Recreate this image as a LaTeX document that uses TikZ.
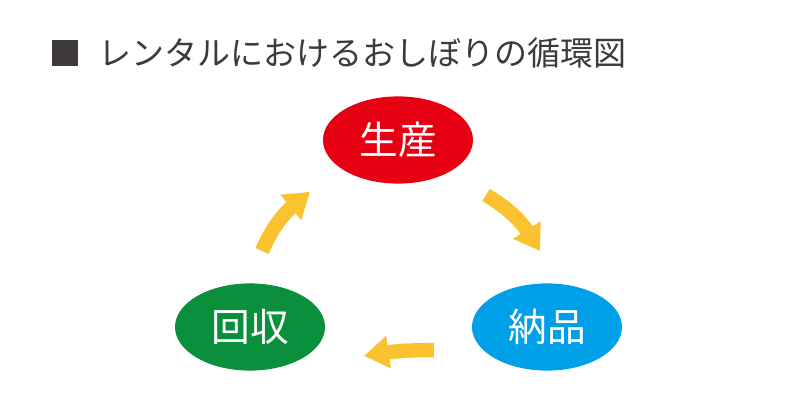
\documentclass[tikz,border=0pt]{standalone}
\usepackage{fontspec}
\setmainfont{Noto Sans CJK JP}
\usetikzlibrary{shapes.geometric,arrows.meta,bending}
\definecolor{seisanred}{HTML}{E60012}
\definecolor{nohinblue}{HTML}{00A0E9}
\definecolor{kaishugreen}{HTML}{0A8F3C}
\definecolor{flowyellow}{HTML}{F9C22E}
\definecolor{titlegray}{HTML}{3E3A39}
\begin{document}
\begin{tikzpicture}[
stage/.style={
ellipse,
draw=none,
inner sep=0pt,
minimum width=3.75cm,
minimum height=2.18cm,
text=white,
font=\fontsize{27.5}{30}\selectfont
},
flow/.style={
draw=flowyellow,
line width=0.36cm,
-{Triangle[width=0.78cm,length=0.62cm,flex]}
}
]
\useasboundingbox (0,0) rectangle (20,10.475);

\node[fill=titlegray,minimum size=0.65cm,inner sep=0pt] (mark) at (1.625,9.15) {};
\node[anchor=west,inner sep=0pt,text=titlegray,font=\fontsize{23.5}{26}\selectfont] (title) at (2.45,9.15) {レンタルにおけるおしぼりの循環図};

\node[stage,fill=seisanred] (S) at (9.95,6.975) {生産};
\node[stage,fill=nohinblue] (N) at (13.675,2.3) {納品};
\node[stage,fill=kaishugreen] (K) at (6.25,2.3) {回収};

\coordinate (KS1) at (6.55,4.2);
\coordinate (KS2) at (7.75,5.68);
\coordinate (SN1) at (12.15,5.6);
\coordinate (SN2) at (13.5,4.2);
\coordinate (NK1) at (10.85,1.72);
\coordinate (NK2) at (9.1,1.58);

\draw[flow] (KS1) to[bend left=15] (KS2);
\draw[flow] (SN1) to[bend left=15] (SN2);
\draw[flow] (NK1) to[bend right=5] (NK2);

\end{tikzpicture}
\end{document}
